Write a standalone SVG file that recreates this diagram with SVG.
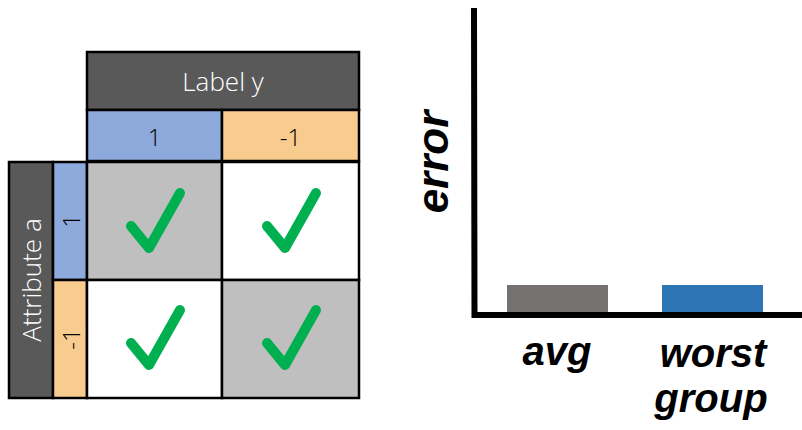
<svg xmlns="http://www.w3.org/2000/svg" width="802" height="430" viewBox="0 0 802 430">
  <style>
    .cell { stroke: #000; stroke-width: 2.5; }
    .hdr { fill: #595959; }
    .blue { fill: #8EA9DB; }
    .orange { fill: #F8CB8E; }
    .gray { fill: #BFBFBF; }
    .white { fill: #FFFFFF; }
    .lbl { font-family: "Open Sans", "Liberation Sans", sans-serif; font-weight: 300; text-anchor: middle; dominant-baseline: central; }
    .check { fill: none; stroke: #00B050; stroke-width: 10; stroke-linecap: round; stroke-linejoin: round; }
    .hand { font-family: "Liberation Sans", "DejaVu Sans", sans-serif; font-weight: bold; font-style: italic; fill: #000; }
    .axis { stroke: #000; stroke-width: 6; fill: none; }
  </style>
  <defs>
    <path id="tick" class="check" d="M-17,0 L1,22 L32,-33"/>
  </defs>

  <!-- header: label y -->
  <g id="label-y">
    <rect class="cell hdr" x="87" y="52" width="272" height="58"/>
    <text class="lbl" x="223" y="81" font-size="26" fill="#FFFFFF">Label y</text>
  </g>
  <g id="y-pos">
    <rect class="cell blue" x="87" y="110" width="135" height="51"/>
    <text class="lbl" x="154.5" y="136" font-size="24" fill="#000">1</text>
  </g>
  <g id="y-neg">
    <rect class="cell orange" x="222" y="110" width="137" height="51"/>
    <text class="lbl" x="290.5" y="136" font-size="24" fill="#000">-1</text>
  </g>

  <!-- header: attribute a -->
  <g id="attribute-a">
    <rect class="cell hdr" x="9" y="162" width="44" height="236"/>
    <text class="lbl" transform="translate(31,280) rotate(-90)" font-size="26" fill="#FFFFFF">Attribute a</text>
  </g>
  <g id="a-pos">
    <rect class="cell blue" x="53" y="162" width="34" height="118"/>
    <text class="lbl" transform="translate(70,221) rotate(-90)" font-size="24" fill="#000">1</text>
  </g>
  <g id="a-neg">
    <rect class="cell orange" x="53" y="280" width="34" height="118"/>
    <text class="lbl" transform="translate(70,339) rotate(-90)" font-size="24" fill="#000">-1</text>
  </g>

  <!-- group cells -->
  <g id="cell-1-1">
    <rect class="cell gray" x="87" y="162" width="135" height="118"/>
    <use href="#tick" x="148" y="226"/>
  </g>
  <g id="cell-1-neg1">
    <rect class="cell white" x="222" y="162" width="137" height="118"/>
    <use href="#tick" x="284" y="226"/>
  </g>
  <g id="cell-neg1-1">
    <rect class="cell white" x="87" y="280" width="135" height="118"/>
    <use href="#tick" x="148" y="343"/>
  </g>
  <g id="cell-neg1-neg1">
    <rect class="cell gray" x="222" y="280" width="137" height="118"/>
    <use href="#tick" x="284" y="343"/>
  </g>

  <!-- bar chart -->
  <g id="chart-axes">
    <path class="axis" d="M474,8 L474.5,315 L802,315"/>
  </g>
  <g id="bar-avg">
    <rect x="507" y="285" width="101" height="27" fill="#767171"/>
    <text class="hand" x="557" y="365" font-size="40" text-anchor="middle">avg</text>
  </g>
  <g id="bar-worst">
    <rect x="662" y="285" width="101" height="27" fill="#2E75B6"/>
    <text class="hand" x="713" y="367" font-size="40" text-anchor="middle">worst</text>
    <text class="hand" x="711" y="412" font-size="40" text-anchor="middle">group</text>
  </g>
  <g id="error-label">
    <text class="hand" transform="translate(448,162) rotate(-90)" font-size="44" text-anchor="middle">error</text>
  </g>
</svg>
